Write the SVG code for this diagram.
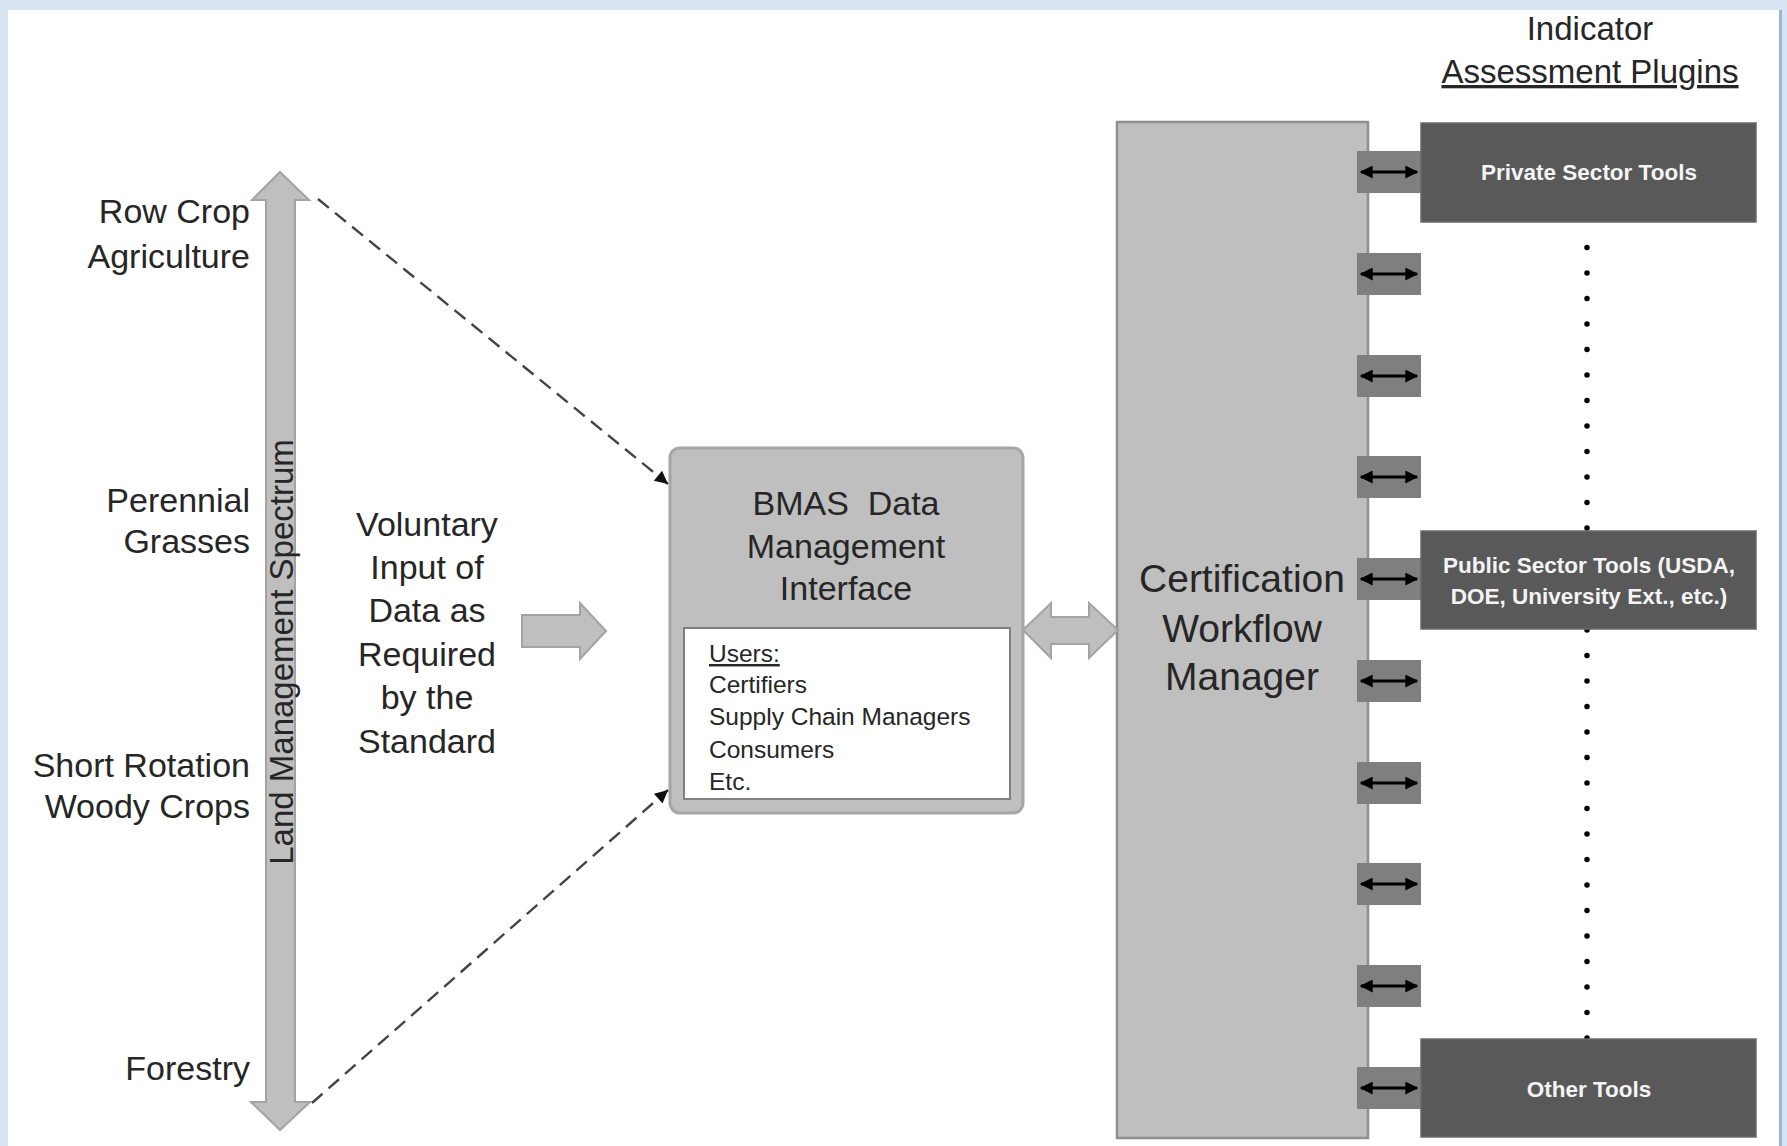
<svg xmlns="http://www.w3.org/2000/svg" xmlns:xlink="http://www.w3.org/1999/xlink" width="1787" height="1146" viewBox="0 0 1787 1146">
<style>
.t{font-family:"Liberation Sans",Arial,sans-serif;fill:#262626}
.lbl{font-size:34px}
.r{text-anchor:end}
.m{text-anchor:middle}
.usr{font-size:24.5px}
.tool{font-family:"Liberation Sans",Arial,sans-serif;font-weight:bold;font-size:22.5px;fill:#f4f4f4;text-anchor:middle}
.blk{fill:#bfbfbf;stroke:#a3a3a3;stroke-width:2}
.toolbox{fill:#595959;stroke:#6a6a6a;stroke-width:1.5}
.dash{fill:none;stroke:#444;stroke-width:2.4;stroke-dasharray:14 8}
</style>
<defs>
<marker id="ah" viewBox="0 0 10 10" refX="10" refY="5" markerWidth="16" markerHeight="13" markerUnits="userSpaceOnUse" orient="auto"><path d="M0,0 L10,5 L0,10 z" fill="#111"/></marker>
<marker id="dh" viewBox="0 0 10 10" refX="9" refY="5" markerWidth="14" markerHeight="13" markerUnits="userSpaceOnUse" orient="auto-start-reverse"><path d="M0,0 L10,5 L0,10 z" fill="#000"/></marker>
<g id="plug"><rect x="1357" y="-21" width="64" height="42" fill="#7f7f7f"/><line x1="1361" y1="0" x2="1417" y2="0" stroke="#000" stroke-width="3" marker-start="url(#dh)" marker-end="url(#dh)"/></g>
</defs>
<rect x="0" y="0" width="1787" height="1146" fill="#d9e4f2"/>
<rect x="8" y="10" width="1771" height="1136" fill="#ffffff"/>
<rect x="1779" y="10" width="3" height="1136" fill="#9db7da"/>

<g id="spectrum">
<polygon class="blk" points="280,172 309,200 295,200 295,1102 310,1102 280,1130 251,1102 266,1102 266,200 252,200"/>
<text class="t" font-size="33" text-anchor="middle" transform="translate(293,652) rotate(-90)">Land Management Spectrum</text>
</g>
<g id="labels">
<text class="t lbl r" x="250" y="223">Row Crop</text>
<text class="t lbl r" x="250" y="268">Agriculture</text>
<text class="t lbl r" x="250" y="512">Perennial</text>
<text class="t lbl r" x="250" y="553">Grasses</text>
<text class="t lbl r" x="250" y="777">Short Rotation</text>
<text class="t lbl r" x="250" y="818">Woody Crops</text>
<text class="t lbl r" x="250" y="1080">Forestry</text>
</g>
<g id="voluntary">
<text class="t lbl m" x="427" y="536">Voluntary</text>
<text class="t lbl m" x="427" y="579">Input of</text>
<text class="t lbl m" x="427" y="622">Data as</text>
<text class="t lbl m" x="427" y="666">Required</text>
<text class="t lbl m" x="427" y="709">by the</text>
<text class="t lbl m" x="427" y="753">Standard</text>
</g>
<g id="bmas">
<rect x="670" y="448" width="353" height="365" rx="10" fill="#bfbfbf" stroke="#a6a6a6" stroke-width="3"/>
<text class="t lbl m" x="846" y="515" xml:space="preserve">BMAS  Data</text>
<text class="t lbl m" x="846" y="558">Management</text>
<text class="t lbl m" x="846" y="600">Interface</text>
<rect x="684" y="628" width="326" height="171" fill="#ffffff" stroke="#808080" stroke-width="2"/>
<text class="t usr" x="709" y="662" text-decoration="underline">Users:</text>
<text class="t usr" x="709" y="693">Certifiers</text>
<text class="t usr" x="709" y="725">Supply Chain Managers</text>
<text class="t usr" x="709" y="758">Consumers</text>
<text class="t usr" x="709" y="790">Etc.</text>
</g>
<g id="cert">
<rect x="1117" y="122" width="251" height="1016" fill="#bfbfbf" stroke="#8f8f8f" stroke-width="2.5"/>
<text class="t m" font-size="39" x="1242" y="592">Certification</text>
<text class="t m" font-size="39" x="1242" y="642">Workflow</text>
<text class="t m" font-size="39" x="1242" y="690">Manager</text>
</g>
<g id="heading">
<text class="t m" font-size="33" x="1590" y="40">Indicator</text>
<text class="t m" font-size="33" x="1590" y="83" text-decoration="underline">Assessment Plugins</text>
</g>
<g id="connectors">
<path class="dash" d="M318,199 L668,484" marker-end="url(#ah)"/>
<path class="dash" d="M312,1103 L668,790" marker-end="url(#ah)"/>
<polygon class="blk" points="522,615 580,615 580,603 606,631 580,659 580,647 522,647"/>
<polygon class="blk" points="1023,630 1051,603 1051,617 1089,617 1089,603 1118,630 1089,658 1089,644 1051,644 1051,658"/>
<path d="M1587,1038 V222" fill="none" stroke="#000" stroke-width="5.5" stroke-linecap="round" stroke-dasharray="0 25.5"/>
<use xlink:href="#plug" y="172"/>
<use xlink:href="#plug" y="274"/>
<use xlink:href="#plug" y="376"/>
<use xlink:href="#plug" y="477"/>
<use xlink:href="#plug" y="579"/>
<use xlink:href="#plug" y="681"/>
<use xlink:href="#plug" y="783"/>
<use xlink:href="#plug" y="884"/>
<use xlink:href="#plug" y="986"/>
<use xlink:href="#plug" y="1088"/>
</g>
<g id="private">
<rect class="toolbox" x="1421" y="123" width="335" height="99"/>
<text class="tool" x="1589" y="180">Private Sector Tools</text>
</g>
<g id="public">
<rect class="toolbox" x="1421" y="531" width="335" height="98"/>
<text class="tool" x="1589" y="573">Public Sector Tools (USDA,</text>
<text class="tool" x="1589" y="604">DOE, University Ext., etc.)</text>
</g>
<g id="other">
<rect class="toolbox" x="1421" y="1039" width="335" height="98"/>
<text class="tool" x="1589" y="1097">Other Tools</text>
</g>
</svg>
